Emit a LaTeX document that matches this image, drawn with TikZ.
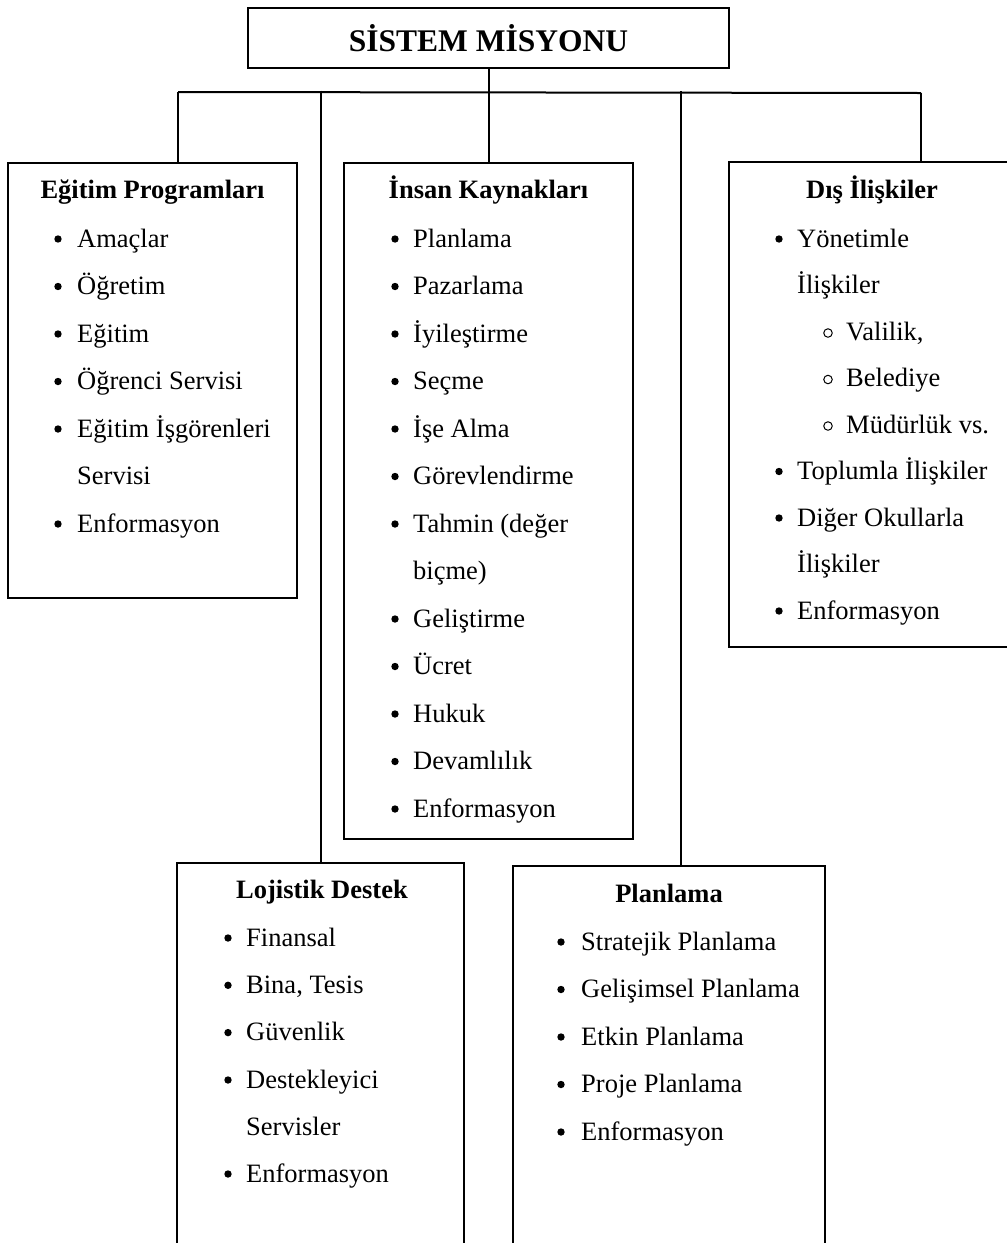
\documentclass[tikz,border=0pt]{standalone}
\usepackage{fontspec}
\setmainfont{Liberation Serif}
\begin{document}
\begin{tikzpicture}[x=1pt,y=-1pt,
  box/.style={draw, line width=2pt, rectangle, anchor=north west, inner sep=0pt, outer sep=0pt},
  ln/.style={line width=2pt},
  itm/.style={anchor=base west, inner sep=0pt, font=\fontsize{26.5}{30}\selectfont},
  hd/.style={anchor=base, inner sep=0pt, font=\fontsize{26.5}{30}\selectfont\bfseries},
  dot/.style={circle, fill=black, draw=none, minimum size=7.4pt, inner sep=0pt},
  odot/.style={circle, draw=black, line width=1pt, minimum size=8.5pt, inner sep=0pt}]
\newcommand\bitem[5]{\node[dot] (#1d) at (#2,#4-8) {}; \node[itm] (#1) at (#3,#4) {#5};}
\newcommand\sitem[5]{\node[odot] (#1d) at (#2,#4-7) {}; \node[itm] (#1) at (#3,#4) {#5};}
\useasboundingbox (0,0) rectangle (1007,1243);
\fill[white] (0,0) rectangle (1007,1243);

% title
\node[box, minimum width=481pt, minimum height=60pt] (title) at (248,8) {};
\node[anchor=base, inner sep=0pt, font=\fontsize{31.5}{36}\selectfont\bfseries] (titletext) at (488.5,51) {SİSTEM MİSYONU};

% boxes
\node[box, minimum width=289pt, minimum height=435pt] (eg) at (8,163) {};
\node[box, minimum width=289pt, minimum height=676pt] (ins) at (344,163) {};
\node[box, minimum width=288pt, minimum height=485pt] (dis) at (729,162) {};
\node[box, minimum width=287pt, minimum height=420pt] (loj) at (177,863) {};
\node[box, minimum width=312pt, minimum height=420pt] (plan) at (513,866) {};

% connectors
\coordinate (busL) at (178,92);
\coordinate (busR) at (921,93);
\coordinate (b2) at (321,90.5);
\coordinate (b4) at (681,91);
\draw[ln] (busL) -- (busR);
\draw[ln] (title.south) -- (ins.north);
\draw[ln] (busL) -- (busL |- eg.north);
\draw[ln] (b2) -- (b2 |- loj.north);
\draw[ln] (b4) -- (b4 |- plan.north);
\draw[ln] (busR) -- (busR |- dis.north);

% Eğitim Programları
\node[hd] (egt) at (152.5,198) {Eğitim Programları};
\bitem{eg1}{58}{77}{247}{Amaçlar}
\bitem{eg2}{58}{77}{294.5}{Öğretim}
\bitem{eg3}{58}{77}{342}{Eğitim}
\bitem{eg4}{58}{77}{389.5}{Öğrenci Servisi}
\bitem{eg5}{58}{77}{437}{Eğitim İşgörenleri}
\node[itm] (eg5b) at (77,484.5) {Servisi};
\bitem{eg6}{58}{77}{532}{Enformasyon}

% İnsan Kaynakları
\node[hd] (inst) at (488.5,198) {İnsan Kaynakları};
\bitem{in1}{395}{413}{247}{Planlama}
\bitem{in2}{395}{413}{294.5}{Pazarlama}
\bitem{in3}{395}{413}{342}{İyileştirme}
\bitem{in4}{395}{413}{389.5}{Seçme}
\bitem{in5}{395}{413}{437}{İşe Alma}
\bitem{in6}{395}{413}{484.5}{Görevlendirme}
\bitem{in7}{395}{413}{532}{Tahmin (değer}
\node[itm] (in7b) at (413,579.5) {biçme)};
\bitem{in8}{395}{413}{627}{Geliştirme}
\bitem{in9}{395}{413}{674.5}{Ücret}
\bitem{in10}{395}{413}{722}{Hukuk}
\bitem{in11}{395}{413}{769.5}{Devamlılık}
\bitem{in12}{395}{413}{817}{Enformasyon}

% Dış İlişkiler
\node[hd] (dist) at (872,198) {Dış İlişkiler};
\bitem{di1}{779}{797}{247}{Yönetimle}
\node[itm] (di1b) at (797,293.5) {İlişkiler};
\sitem{di2}{828}{846}{340}{Valilik,}
\sitem{di3}{828}{846}{386.5}{Belediye}
\sitem{di4}{828}{846}{433}{Müdürlük vs.}
\bitem{di5}{779}{797}{479.5}{Toplumla İlişkiler}
\bitem{di6}{779}{797}{526}{Diğer Okullarla}
\node[itm] (di6b) at (797,572.5) {İlişkiler};
\bitem{di7}{779}{797}{619}{Enformasyon}

% Lojistik Destek
\node[hd] (lojt) at (322,898) {Lojistik Destek};
\bitem{lo1}{228}{246}{946}{Finansal}
\bitem{lo2}{228}{246}{993.3}{Bina, Tesis}
\bitem{lo3}{228}{246}{1040.6}{Güvenlik}
\bitem{lo4}{228}{246}{1088}{Destekleyici}
\node[itm] (lo4b) at (246,1135) {Servisler};
\bitem{lo5}{228}{246}{1182}{Enformasyon}

% Planlama
\node[hd] (plant) at (669,902) {Planlama};
\bitem{pl1}{561}{581}{950}{Stratejik Planlama}
\bitem{pl2}{561}{581}{997.5}{Gelişimsel Planlama}
\bitem{pl3}{561}{581}{1045}{Etkin Planlama}
\bitem{pl4}{561}{581}{1092.5}{Proje Planlama}
\bitem{pl5}{561}{581}{1140}{Enformasyon}
\end{tikzpicture}
\end{document}
